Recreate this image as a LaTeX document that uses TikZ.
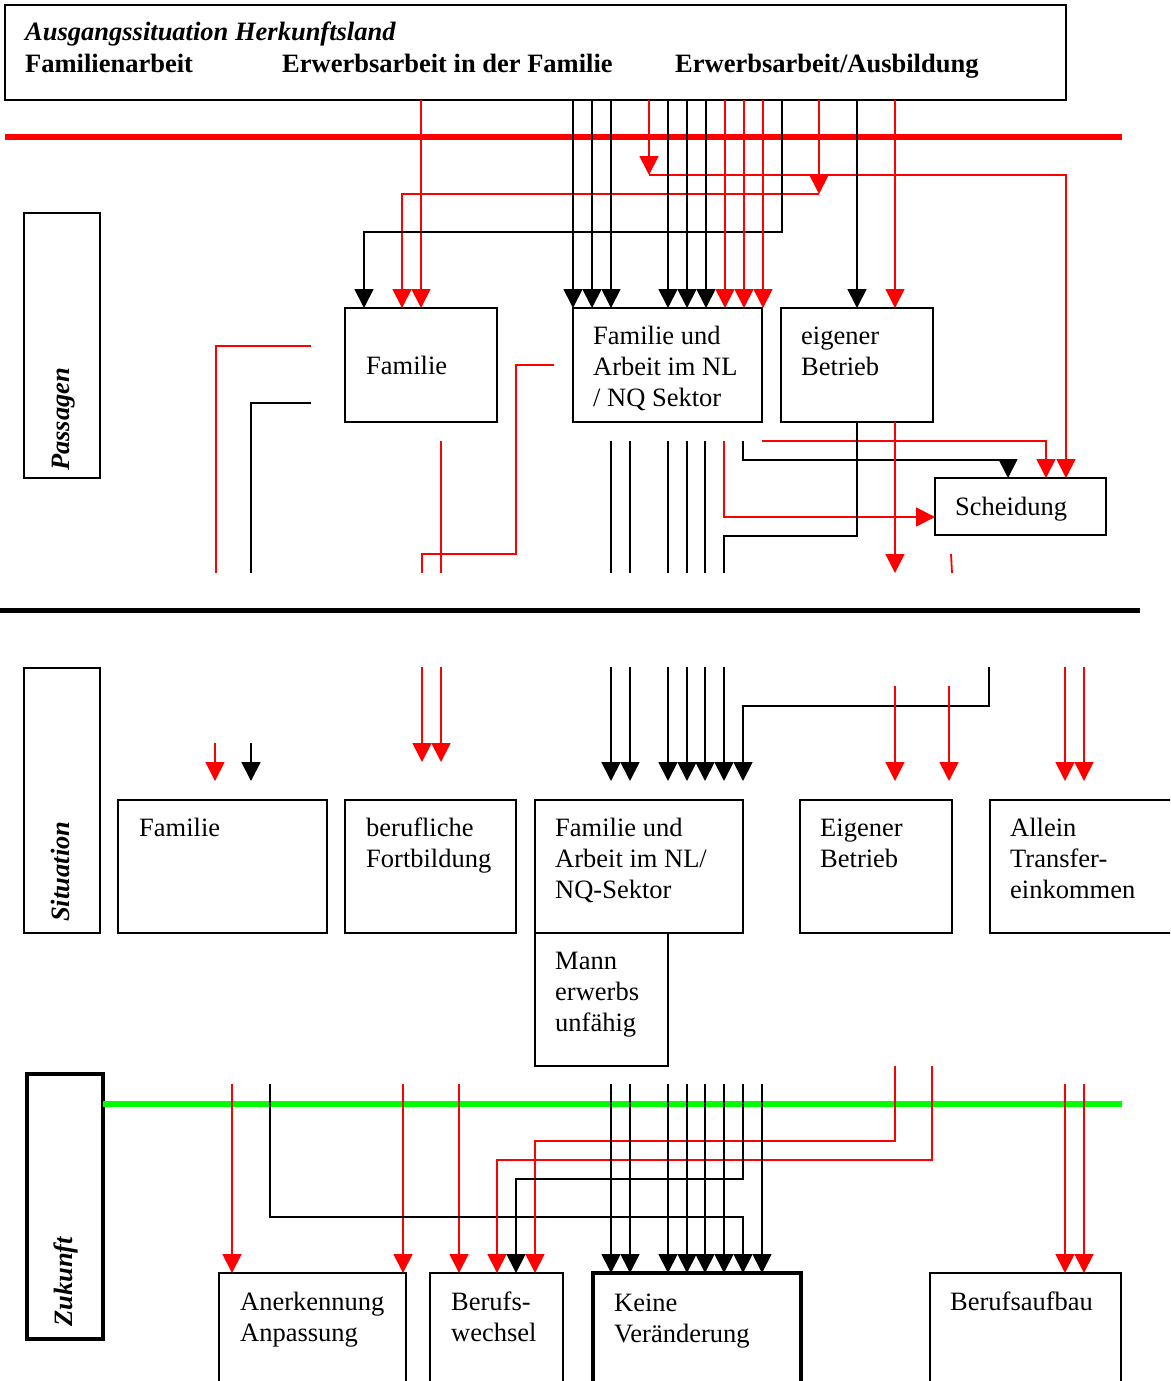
\documentclass[tikz,border=0pt]{standalone}
\usepackage{fontspec}
\setmainfont{Liberation Serif}
\usetikzlibrary{arrows.meta}
\newcommand\fsz{\fontsize{26.5}{31}\selectfont}
\begin{document}
\begin{tikzpicture}[x=1pt,y=-1pt,
  bx/.style={draw, line width=1.8pt, anchor=north west, inner sep=0pt, outer sep=0pt},
  thickbx/.style={bx, line width=4pt},
  tx/.style={anchor=base west, inner sep=0pt, align=left, font=\fsz},
  lab/.style={anchor=base west, inner sep=0pt, rotate=90, font=\fsz\bfseries\itshape},
  rd/.style={draw=red, line width=1.8pt},
  bk/.style={draw=black, line width=1.8pt},
  ar/.style={-{Triangle[width=19pt,length=19pt]}},
]
\useasboundingbox (0,0) rectangle (1170,1381);
\clip (0,0) rectangle (1170,1381);

% ---------- boxes (text nodes are anchored at the baseline of their last line) ----------
\node[bx, minimum width=1061pt, minimum height=95pt] (hdr) at (5,5) {};
\node[tx, font=\fsz\bfseries\itshape] (hdrA) at (25,41) {Ausgangssituation Herkunftsland};
\node[tx, font=\fsz\bfseries] (hdrB) at (25,72) {Familienarbeit};
\node[tx, font=\fsz\bfseries] (hdrC) at (282,72) {Erwerbsarbeit in der Familie};
\node[tx, font=\fsz\bfseries] (hdrD) at (675,72) {Erwerbsarbeit/Ausbildung};

\node[bx, minimum width=76pt, minimum height=265pt] (pasL) at (24,213) {};
\node[lab] (pasT) at (69,471) {Passagen};
\node[bx, minimum width=76pt, minimum height=265pt] (sitL) at (24,668) {};
\node[lab] (sitT) at (69,922) {Situation};
\node[thickbx, minimum width=76pt, minimum height=265pt] (zukL) at (27,1074) {};
\node[lab] (zukT) at (72,1327) {Zukunft};

\node[bx, minimum width=152pt, minimum height=114pt] (famP) at (345,308) {};
\node[tx] (famPt) at (366,374) {Familie};
\node[bx, minimum width=189pt, minimum height=114pt] (fuaP) at (573,308) {};
\node[tx] (fuaPt) at (593,406) {Familie und\\Arbeit im NL\\/ NQ Sektor};
\node[bx, minimum width=152pt, minimum height=114pt] (ebP) at (781,308) {};
\node[tx] (ebPt) at (801,375) {eigener\\Betrieb};
\node[bx, minimum width=171pt, minimum height=57pt] (sch) at (935,478) {};
\node[tx] (scht) at (955,515) {Scheidung};

\node[bx, minimum width=209pt, minimum height=133pt] (famS) at (118,800) {};
\node[tx] (famSt) at (139,836) {Familie};
\node[bx, minimum width=171pt, minimum height=133pt] (bfS) at (345,800) {};
\node[tx] (bfSt) at (366,867) {berufliche\\Fortbildung};
\node[bx, minimum width=208pt, minimum height=133pt] (fuaS) at (535,800) {};
\node[tx] (fuaSt) at (555,898) {Familie und\\Arbeit im NL/\\NQ-Sektor};
\node[bx, minimum width=133pt, minimum height=133pt] (mann) at (535,933) {};
\node[tx] (mannt) at (555,1031) {Mann\\erwerbs\\unfähig};
\node[bx, minimum width=152pt, minimum height=133pt] (ebS) at (800,800) {};
\node[tx] (ebSt) at (820,867) {Eigener\\Betrieb};
\node[bx, minimum width=200pt, minimum height=133pt] (alS) at (990,800) {};
\node[tx] (alSt) at (1010,898) {Allein\\Transfer-\\einkommen};

\node[bx, minimum width=187pt, minimum height=160pt] (ane) at (219,1273) {};
\node[tx] (anet) at (240,1341) {Anerkennung\\Anpassung};
\node[bx, minimum width=133pt, minimum height=160pt] (bw) at (430,1273) {};
\node[tx] (bwt) at (451,1341) {Berufs-\\wechsel};
\node[thickbx, minimum width=208pt, minimum height=160pt] (kv) at (593,1273) {};
\node[tx] (kvt) at (614,1342) {Keine\\Veränderung};
\node[bx, minimum width=191pt, minimum height=160pt] (ba) at (930,1273) {};
\node[tx] (bat) at (950,1310) {Berufsaufbau};

% ---------- dividing lines ----------
\coordinate (r1a) at (5,137); \coordinate (r1b) at (1122,137);
\draw[red, line width=6pt] (r1a) -- (r1b);
\coordinate (k1a) at (0,610); \coordinate (k1b) at (1140,610);
\draw[black, line width=5pt] (k1a) -- (k1b);
\coordinate (g1b) at (1122,1104);
\draw[green, line width=6pt] (zukL.east |- g1b) -- (g1b);

% ---------- Passagen, upper ----------
\draw[rd,ar] (421,0 |- hdr.south) -- (421,0 |- famP.north);
\draw[rd,ar] (819,0 |- hdr.south) -- (819,194);
\draw[rd,ar] (819,194) -- (402,194) -- (402,0 |- famP.north);
\draw[rd,ar] (649,0 |- hdr.south) -- (649,175);
\draw[rd,ar] (649,175) -- (1066,175) -- (1066,0 |- sch.north);
\draw[bk,ar] (782,0 |- hdr.south) -- (782,232) -- (364,232) -- (364,0 |- famP.north);
\foreach \x in {573,592,611,668,687,706}
  \draw[bk,ar] (\x,0 |- hdr.south) -- (\x,0 |- fuaP.north);
\foreach \x in {725,744,763}
  \draw[rd,ar] (\x,0 |- hdr.south) -- (\x,0 |- fuaP.north);
\draw[bk,ar] (857,0 |- hdr.south) -- (857,0 |- ebP.north);
\draw[rd,ar] (895,0 |- hdr.south) -- (895,0 |- ebP.north);

% ---------- Passagen, lower ----------
\coordinate (pb) at (0,573);
\draw[rd] (311,346) -- (216,346) -- (216,0 |- pb);
\draw[bk] (311,403) -- (251,403) -- (251,0 |- pb);
\draw[rd] (441,441) -- (441,0 |- pb);
\draw[rd] (554,365) -- (516,365) -- (516,554) -- (422,554) -- (422,0 |- pb);
\foreach \x in {611,630,668,687,705}
  \draw[bk] (\x,441) -- (\x,0 |- pb);
\draw[rd,ar] (724,441) -- (724,517) -- (sch.west |- 0,517);
\draw[bk,ar] (743,441) -- (743,460) -- (1008,460) -- (1008,0 |- sch.north);
\draw[rd,ar] (762,441) -- (1046,441) -- (1046,0 |- sch.north);
\draw[bk] (857,0 |- ebP.south) -- (857,536) -- (724,536) -- (724,0 |- pb);
\draw[rd,ar] (895,0 |- ebP.south) -- (895,0 |- pb);
\draw[rd] (951,554) -- (952,0 |- pb);

% ---------- Situation ----------
\coordinate (st) at (0,667);
\coordinate (se) at (0,781);
\foreach \x in {422,441}
  \draw[rd,ar] (\x,0 |- st) -- (\x,762);
\foreach \x in {611,630,668,687,705,724}
  \draw[bk,ar] (\x,0 |- st) -- (\x,0 |- se);
\draw[bk,ar] (989,0 |- st) -- (989,706) -- (743,706) -- (743,0 |- se);
\foreach \x in {895,949}
  \draw[rd,ar] (\x,686) -- (\x,0 |- se);
\foreach \x in {1065,1084}
  \draw[rd,ar] (\x,0 |- st) -- (\x,0 |- se);
\draw[rd,ar] (215,743) -- (215,0 |- se);
\draw[bk,ar] (251,743) -- (251,0 |- se);

% ---------- Zukunft ----------
\coordinate (zt) at (0,1084);
\foreach \x in {232,403}
  \draw[rd,ar] (\x,0 |- zt) -- (\x,0 |- ane.north);
\draw[rd,ar] (459,0 |- zt) -- (459,0 |- bw.north);
\draw[bk,ar] (270,0 |- zt) -- (270,1217) -- (743,1217) -- (743,0 |- kv.north);
\draw[rd,ar] (895,0 |- mann.south) -- (895,1141) -- (535,1141) -- (535,0 |- bw.north);
\draw[rd,ar] (932,0 |- mann.south) -- (932,1160) -- (497,1160) -- (497,0 |- bw.north);
\draw[bk,ar] (743,0 |- zt) -- (743,1179) -- (516,1179) -- (516,0 |- bw.north);
\foreach \x in {611,630,668,687,705,724,762}
  \draw[bk,ar] (\x,0 |- zt) -- (\x,0 |- kv.north);
\foreach \x in {1065,1084}
  \draw[rd,ar] (\x,0 |- zt) -- (\x,0 |- ba.north);
\end{tikzpicture}
\end{document}
